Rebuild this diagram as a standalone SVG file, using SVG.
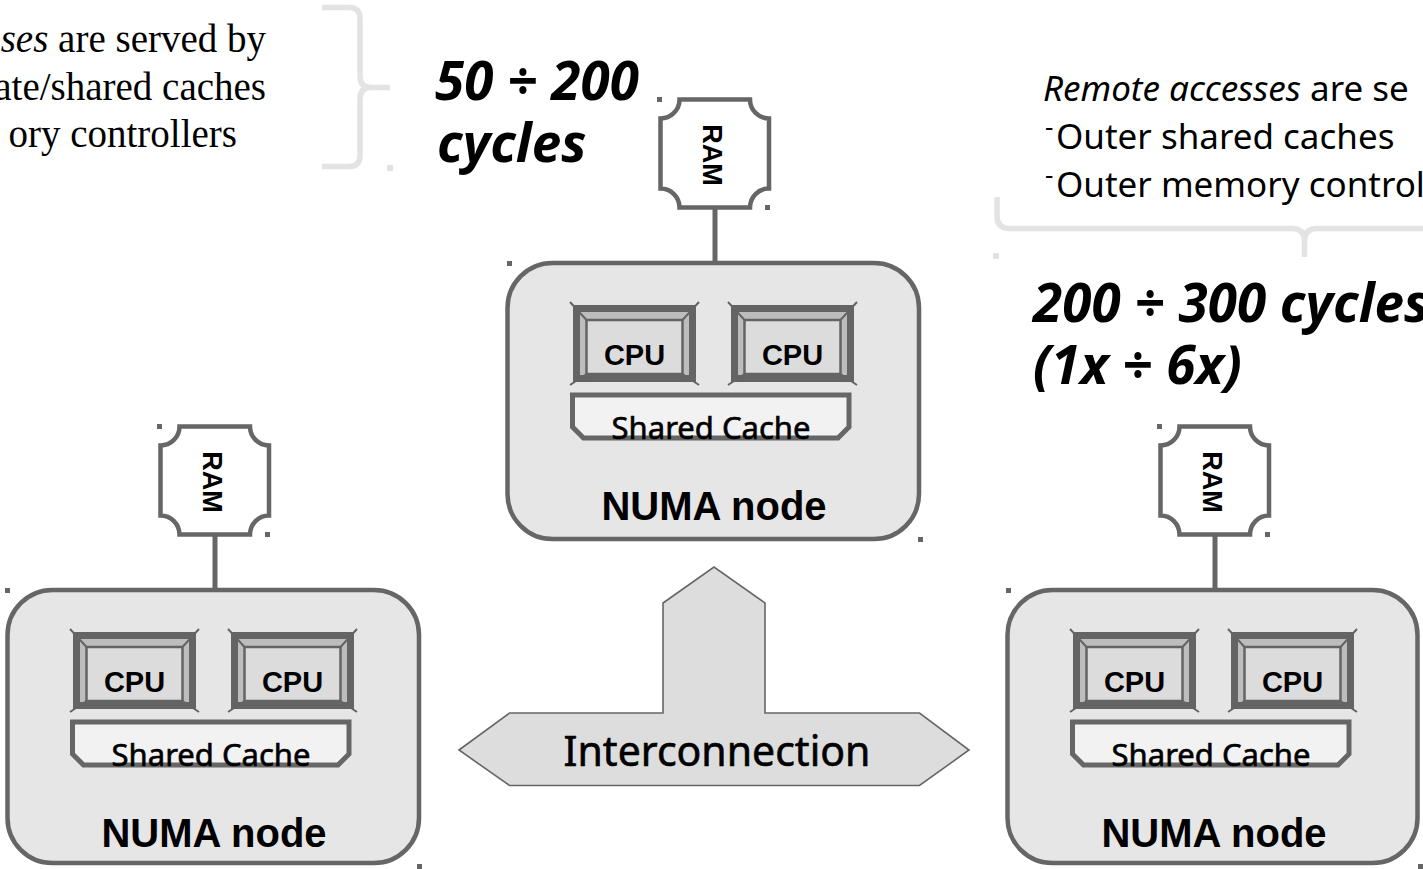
<svg xmlns="http://www.w3.org/2000/svg" width="1423" height="869" viewBox="0 0 1423 869">
<style>
.serif{font-family:"Liberation Serif","Times New Roman",serif;font-size:39px;fill:#000}
.sans{font-family:"Noto Sans","Open Sans",sans-serif;fill:#000}
.heavy{stroke:#000;stroke-width:0.6}
.bold{font-family:"Liberation Sans",Arial,sans-serif;font-weight:bold;fill:#000}
.lat{font-family:"Noto Sans","Open Sans",sans-serif;font-weight:bold;font-style:italic;font-size:53px;fill:#000}
.brace{fill:none;stroke:#e3e3e3;stroke-width:5.5}
.bdot{fill:#e3e3e3}
.node{fill:#e6e6e6;stroke:#666;stroke-width:4.5}
.ram{fill:#fff;stroke:#666;stroke-width:4.5}
.cache{fill:#f2f2f2;stroke:#666;stroke-width:5}
.cpuo{fill:#bdbdbd;stroke:#646464;stroke-width:7}
.cpui{fill:#dcdcdc;stroke:#646464;stroke-width:2.5}
.cpud{stroke:#646464;stroke-width:2;fill:none}
.dot{fill:#666}
.wire{stroke:#666;stroke-width:5}
.inter{fill:#ddd;stroke:#666;stroke-width:1.6}
</style>
<defs>
<g id="cpu">
<rect class="cpuo" x="3.5" y="3.5" width="116" height="70"/>
<rect class="cpui" x="13.5" y="15" width="96" height="54"/>
<path class="cpud" d="M-3,-3 L13.5,15 M126,-3 L109.5,15 M-3,80 L13.5,69 M126,80 L109.5,69"/>
</g>
<path id="ramshape" class="ram" d="M679.5,99.5 H750 A19,19 0 0 0 769,118.5 V188.5 A19,19 0 0 0 750,207.5 H679.5 A19,19 0 0 0 660.5,188.5 V118.5 A19,19 0 0 0 679.5,99.5 Z"/>
</defs>

<g id="annotations">
<path class="brace" d="M322,7.5 H349 Q360,7.5 360,18.5 V76 Q360,87.5 371,87.5 H390 M371,87.5 Q360,87.5 360,99 V155.5 Q360,166.5 349,166.5 H322"/>
<rect class="bdot" x="387" y="165" width="6" height="6"/>
<text class="serif" x="266" y="52" text-anchor="end"><tspan font-style="italic">ses</tspan> are served by</text>
<text class="serif" x="266" y="100" text-anchor="end">ate/shared caches</text>
<text class="serif" x="237" y="147" text-anchor="end">ory controllers</text>

<path class="brace" d="M997,197 V216 Q997,228.5 1009.5,228.5 H1292 Q1304.5,228.5 1304.5,241 V257 M1304.5,241 Q1304.5,228.5 1317,228.5 H1430"/>
<rect class="bdot" x="993" y="253" width="6" height="6"/>
<text class="sans" font-size="35" x="1043" y="101"><tspan font-style="italic">Remote accesses</tspan> are se</text>
<text class="sans" font-size="35" x="1045" y="149"><tspan font-size="26" dy="-13">-</tspan><tspan x="1056" dy="13">Outer shared caches</tspan></text>
<text class="sans" font-size="35" x="1045" y="197"><tspan font-size="26" dy="-13">-</tspan><tspan x="1056" dy="13">Outer memory control</tspan></text>

<text class="lat" x="435" y="100">50 ÷ 200</text>
<text class="lat" x="437" y="162" font-size="51">cycles</text>
<text class="lat" x="1033" y="322">200 ÷ 300 cycles</text>
<text class="lat" x="1033" y="384">(1x ÷ 6x)</text>
</g>

<g id="connectors">
<line class="wire" x1="715" y1="207.5" x2="715" y2="263"/>
<line class="wire" x1="215" y1="534.5" x2="215" y2="590"/>
<line class="wire" x1="1215" y1="534.5" x2="1215" y2="590"/>
</g>

<g id="ram-top">
<use href="#ramshape"/>
<text class="bold" font-size="27" text-anchor="middle" transform="translate(712,155) rotate(90)" y="9.5">RAM</text>
<rect class="dot" x="657" y="97" width="5" height="5"/>
<rect class="dot" x="765" y="205" width="5" height="5"/>
</g>
<g id="ram-left" transform="translate(-500,327)">
<use href="#ramshape"/>
<text class="bold" font-size="27" text-anchor="middle" transform="translate(712,155) rotate(90)" y="9.5">RAM</text>
<rect class="dot" x="657" y="97" width="5" height="5"/>
<rect class="dot" x="765" y="205" width="5" height="5"/>
</g>
<g id="ram-right" transform="translate(500,327)">
<use href="#ramshape"/>
<text class="bold" font-size="27" text-anchor="middle" transform="translate(712,155) rotate(90)" y="9.5">RAM</text>
<rect class="dot" x="657" y="97" width="5" height="5"/>
<rect class="dot" x="765" y="205" width="5" height="5"/>
</g>

<g id="numa-top">
<rect class="node" x="507.5" y="263" width="411.5" height="276" rx="45"/>
<use href="#cpu" x="573" y="305"/>
<use href="#cpu" x="731" y="305"/>
<text class="bold" font-size="29" x="634.5" y="365" text-anchor="middle">CPU</text>
<text class="bold" font-size="29" x="792.5" y="365" text-anchor="middle">CPU</text>
<path class="cache" d="M572.5,395 H849 V427 L838,438 H583.5 L572.5,427 Z"/>
<text class="sans heavy" font-size="31" x="711" y="439" text-anchor="middle">Shared Cache</text>
<text class="bold" font-size="40" x="714" y="520" text-anchor="middle">NUMA node</text>
<rect class="dot" x="507" y="261" width="5" height="5"/>
<rect class="dot" x="918" y="537" width="5" height="5"/>
</g>

<g id="numa-left" transform="translate(-500,327)">
<rect class="node" x="507.5" y="263" width="411.5" height="273" rx="45"/>
<use href="#cpu" x="573" y="305"/>
<use href="#cpu" x="731" y="305"/>
<text class="bold" font-size="29" x="634.5" y="365" text-anchor="middle">CPU</text>
<text class="bold" font-size="29" x="792.5" y="365" text-anchor="middle">CPU</text>
<path class="cache" d="M572.5,395 H849 V427 L838,438 H583.5 L572.5,427 Z"/>
<text class="sans heavy" font-size="31" x="711" y="439" text-anchor="middle">Shared Cache</text>
<text class="bold" font-size="40" x="714" y="520" text-anchor="middle">NUMA node</text>
<rect class="dot" x="505" y="261" width="5" height="5"/>
<rect class="dot" x="917" y="537" width="5" height="5"/>
</g>

<g id="numa-right" transform="translate(500,327)">
<rect class="node" x="507.5" y="263" width="410" height="273" rx="45"/>
<use href="#cpu" x="573" y="305"/>
<use href="#cpu" x="731" y="305"/>
<text class="bold" font-size="29" x="634.5" y="365" text-anchor="middle">CPU</text>
<text class="bold" font-size="29" x="792.5" y="365" text-anchor="middle">CPU</text>
<path class="cache" d="M572.5,395 H849 V427 L838,438 H583.5 L572.5,427 Z"/>
<text class="sans heavy" font-size="31" x="711" y="439" text-anchor="middle">Shared Cache</text>
<text class="bold" font-size="40" x="714" y="520" text-anchor="middle">NUMA node</text>
<rect class="dot" x="506" y="261" width="5" height="5"/>
<rect class="dot" x="918" y="537" width="5" height="5"/>
</g>

<g id="interconnection">
<polygon class="inter" points="459,750 509.5,713 663,713 663,603 714,567 765,603 765,713 919.5,713 969,750 919.5,785.5 509.5,785.5"/>
<text class="sans heavy" font-size="41" x="717" y="766" text-anchor="middle">Interconnection</text>
</g>
</svg>
